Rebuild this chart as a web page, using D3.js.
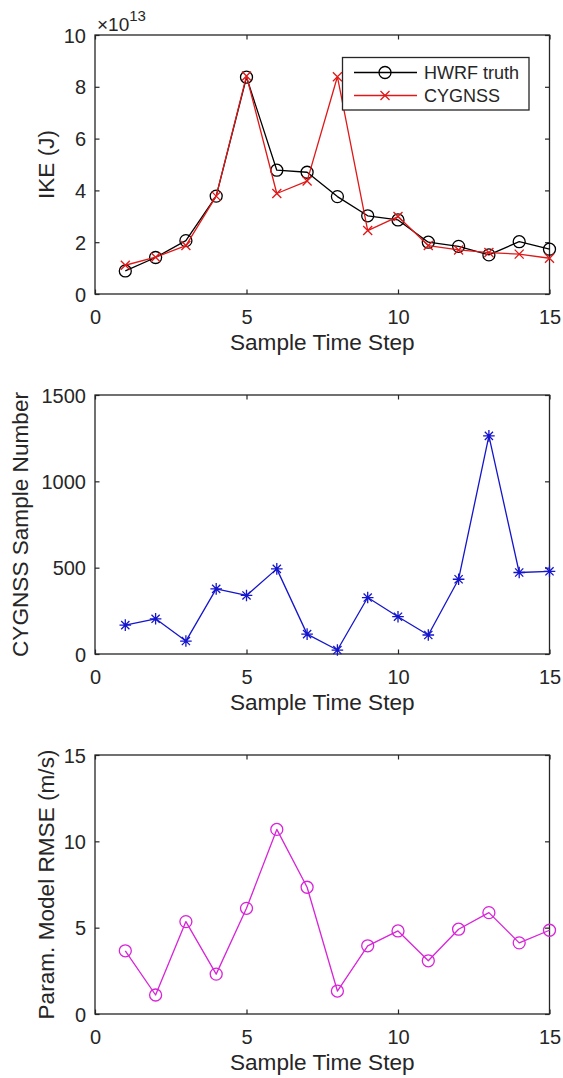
<!DOCTYPE html>
<html>
<head>
<meta charset="utf-8">
<script src="https://cdn.jsdelivr.net/npm/d3@7"></script>
<style>
  html, body { margin: 0; padding: 0; background: #fff; }
  svg { display: block; }
  text { font-family: "Liberation Sans", Arial, Helvetica, sans-serif; fill: #262626; }
</style>
</head>
<body>
<svg id="chart" width="563" height="1078"></svg>
<script>
// ---------- data ----------
const timeSteps = [1,2,3,4,5,6,7,8,9,10,11,12,13,14,15];
const hwrfTruthIKE = [0.89e13,1.41e13,2.06e13,3.78e13,8.37e13,4.78e13,4.70e13,3.76e13,3.02e13,2.86e13,2.00e13,1.84e13,1.51e13,2.02e13,1.73e13];
const cygnssIKE    = [1.11e13,1.42e13,1.87e13,3.78e13,8.42e13,3.88e13,4.36e13,8.39e13,2.45e13,2.99e13,1.87e13,1.70e13,1.60e13,1.54e13,1.38e13];
const cygnssSampleNumber = [167,204,75,377,339,493,115,23,327,216,110,433,1263,472,479];
const paramModelRMSE = [3.66,1.10,5.35,2.31,6.12,10.69,7.34,1.33,3.95,4.81,3.08,4.91,5.87,4.12,4.85];

const xTicks = [0,5,10,15];
const ikeTicks = [0,2e13,4e13,6e13,8e13,10e13];
const sampleTicks = [0,500,1000,1500];
const rmseTicks = [0,5,10,15];

const xLabel = "Sample Time Step";
const legendLabels = ["HWRF truth", "CYGNSS"];

// ---------- layout ----------
const svg = d3.select("#chart");
const L = 95, R = 549.5, H = 259;
const tops = [35, 395, 755];
const axisColor = "#262626";
const tickLen = 4.5;
const tickFont = 20, labelFont = 22.6, legendFont = 18;

const x = d3.scaleLinear().domain([0, 15]).range([L, R]);

function panel(top, yDomain, yTicks, yFmt, yLabel, yLabelX) {
  const g = svg.append("g");
  const y = d3.scaleLinear().domain(yDomain).range([top + H, top]);
  const bottom = top + H;

  const gb = g.append("g").attr("transform", `translate(0,${bottom})`)
    .call(d3.axisBottom(x).tickValues(xTicks).tickSizeInner(-tickLen).tickSizeOuter(0).tickFormat(d3.format("d")));
  gb.selectAll("text").attr("y", 29.5).attr("dy", null)
    .style("font-size", tickFont + "px").attr("fill", axisColor);
  g.append("g").attr("transform", `translate(0,${top})`)
    .call(d3.axisTop(x).tickValues(xTicks).tickSizeInner(-tickLen).tickSizeOuter(0).tickFormat(""));
  const gl = g.append("g").attr("transform", `translate(${L},0)`)
    .call(d3.axisLeft(y).tickValues(yTicks).tickSizeInner(-tickLen).tickSizeOuter(0).tickFormat(yFmt));
  gl.selectAll("text").attr("x", -9).attr("dy", "0.35em")
    .style("font-size", tickFont + "px").attr("fill", axisColor);
  g.append("g").attr("transform", `translate(${R},0)`)
    .call(d3.axisRight(y).tickValues(yTicks).tickSizeInner(-tickLen).tickSizeOuter(0).tickFormat(""));

  g.selectAll(".domain").remove();
  g.selectAll(".tick line").attr("stroke", axisColor).attr("stroke-width", 1.2);
  g.selectAll(".tick text").attr("font-family", null);

  g.append("rect").attr("x", L).attr("y", top).attr("width", R - L).attr("height", H)
    .attr("fill", "none").attr("stroke", axisColor).attr("stroke-width", 1.3);

  g.append("text").attr("x", (L + R) / 2).attr("y", bottom + 56)
    .attr("text-anchor", "middle").style("font-size", labelFont + "px").text(xLabel);
  g.append("text")
    .attr("transform", `translate(${yLabelX},${top + H / 2}) rotate(-90)`)
    .attr("text-anchor", "middle").style("font-size", labelFont + "px").text(yLabel);
  return { g, y };
}

function drawSeries(g, xs, ys, yScale, color, marker, lw) {
  const line = d3.line().x((d, i) => x(xs[i])).y(d => yScale(d));
  g.append("path").datum(ys).attr("d", line)
    .attr("fill", "none").attr("stroke", color).attr("stroke-width", lw).attr("stroke-linejoin", "round");
  const pts = ys.map((d, i) => [x(xs[i]), yScale(d)]);
  drawMarkers(g, pts, color, marker, lw);
}

function drawMarkers(g, pts, color, marker, lw) {
  const mg = g.append("g").attr("stroke", color).attr("stroke-width", lw).attr("fill", "none");
  pts.forEach(([px, py]) => {
    if (marker === "o") {
      mg.append("circle").attr("cx", px).attr("cy", py).attr("r", 6);
    } else if (marker === "x") {
      const s = 4.5;
      mg.append("path").attr("d", `M${px - s},${py - s}L${px + s},${py + s}M${px - s},${py + s}L${px + s},${py - s}`);
    } else if (marker === "*") {
      const s = 5.8, d = s * 0.707;
      mg.append("path").attr("d",
        `M${px - s},${py}L${px + s},${py}M${px},${py - s}L${px},${py + s}` +
        `M${px - d},${py - d}L${px + d},${py + d}M${px - d},${py + d}L${px + d},${py - d}`);
    }
  });
}

// ---------- panel 1: IKE ----------
const p1 = panel(tops[0], [0, 10e13], ikeTicks, d => d3.format("d")(Math.round(d / 1e13)), "IKE (J)", 54);
drawSeries(p1.g, timeSteps, hwrfTruthIKE, p1.y, "#000000", "o", 1.3);
drawSeries(p1.g, timeSteps, cygnssIKE, p1.y, "#e01818", "x", 1.3);

const expT = svg.append("text").attr("x", 97).attr("y", 30.5).style("font-size", "19px").attr("fill", axisColor);
expT.append("tspan").text("\u00d710");
expT.append("tspan").attr("dy", -9.5).style("font-size", "15px").text("13");

// legend
const lg = svg.append("g");
lg.append("rect").attr("x", 342.5).attr("y", 57.5).attr("width", 186.5).attr("height", 52.5)
  .attr("fill", "#fff").attr("stroke", axisColor).attr("stroke-width", 1.3);
const legendRows = [
  { label: legendLabels[0], color: "#000000", marker: "o", y: 72.5 },
  { label: legendLabels[1], color: "#e01818", marker: "x", y: 95.5 }
];
legendRows.forEach(r => {
  lg.append("line").attr("x1", 354).attr("x2", 417).attr("y1", r.y).attr("y2", r.y)
    .attr("stroke", r.color).attr("stroke-width", 1.3);
  drawMarkers(lg, [[385, r.y]], r.color, r.marker, 1.3);
  lg.append("text").attr("x", 424).attr("y", r.y).attr("dy", "0.35em")
    .style("font-size", legendFont + "px").text(r.label);
});

// ---------- panel 2: sample number ----------
const p2 = panel(tops[1], [0, 1500], sampleTicks, d3.format("d"), "CYGNSS Sample Number", 27.5);
drawSeries(p2.g, timeSteps, cygnssSampleNumber, p2.y, "#1515cc", "*", 1.3);

// ---------- panel 3: RMSE ----------
const p3 = panel(tops[2], [0, 15], rmseTicks, d3.format("d"), "Param. Model RMSE (m/s)", 54);
drawSeries(p3.g, timeSteps, paramModelRMSE, p3.y, "#d824d8", "o", 1.3);
</script>
</body>
</html>
